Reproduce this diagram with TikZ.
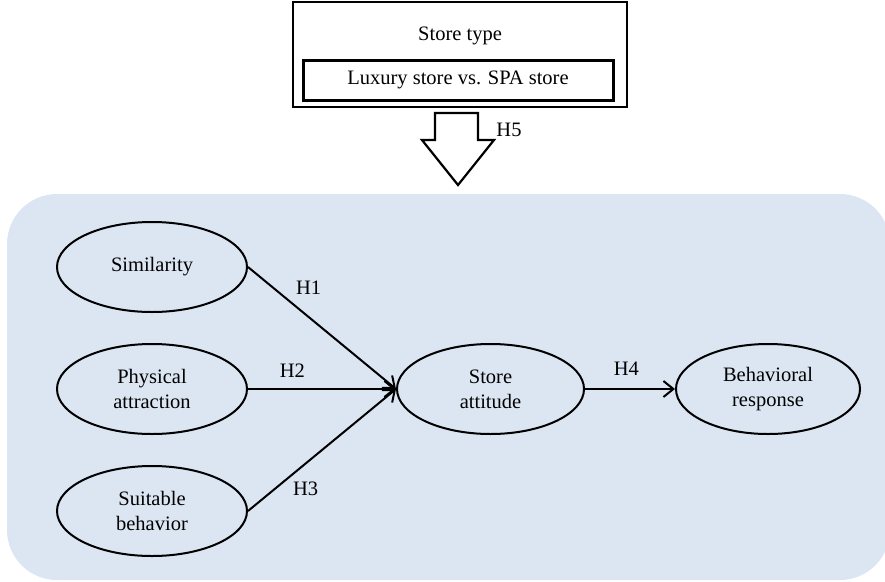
\documentclass[tikz,border=0pt]{standalone}
\usepackage{fontspec}
\setmainfont{Liberation Serif}
\usetikzlibrary{arrows.meta,positioning,shapes.geometric}
\definecolor{panelblue}{RGB}{220,230,242}
\tikzset{
    every picture/.style={
        x=1pt,y=-1pt,line width=2pt,
        >={Straight Barb[length=10pt,width=16pt,line width=2pt]},
        font=\fontsize{20.5}{25}\selectfont
    },
    construct/.style={ellipse,draw,fill=panelblue,minimum width=190pt,minimum height=90pt,
        inner sep=0pt,align=center},
    hyp/.style={inner sep=0pt}
}

\begin{document}
\begin{tikzpicture}
    \clip (0,0) rectangle (885,581);
    \fill[panelblue,rounded corners=50pt] (7,194) rectangle (890,580);
    % moderator
    \node[draw,minimum width=334pt,minimum height=105pt,inner sep=0pt] (type) at (460,54.5) {};
    \node (typelabel) at (460,36) {Store type};
    \node[draw,line width=3pt,minimum width=310pt,minimum height=40pt,inner sep=0pt] (spa) at (458,80) {Luxury store vs. SPA store};
    \draw[line width=2.2pt,fill=white] (435,113) -- (478,113) -- (478,140) -- (494,140) -- (458,185)
        -- (422,140) -- (435,140) -- cycle;
    \node[hyp] (h5) at (509,130) {H5};
    % model
    \node[construct] (sim) at (152,267) {Similarity};
    \node[construct] (phys) [below=30pt of sim] {Physical\\attraction};
    \node[construct] (suit) [below=30pt of phys] {Suitable\\behavior};
    \node[construct] (att) [right=148pt of phys,minimum width=187pt] {Store\\attitude};
    \node[construct] (resp) [right=90pt of att,minimum width=184pt] {Behavioral\\response};
    \path[->] (sim.east)  edge node[hyp,pos=.41,yshift=29pt] {H1} (att.west)
              (phys.east) edge node[hyp,pos=.30,yshift=18pt] {H2} (att.west)
              (suit.east) edge node[hyp,pos=.39,yshift=-25pt] {H3} (att.west)
              (att.east)  edge node[hyp,pos=.46,yshift=20pt] {H4} (resp.west)
              ;
\end{tikzpicture}
\end{document}
